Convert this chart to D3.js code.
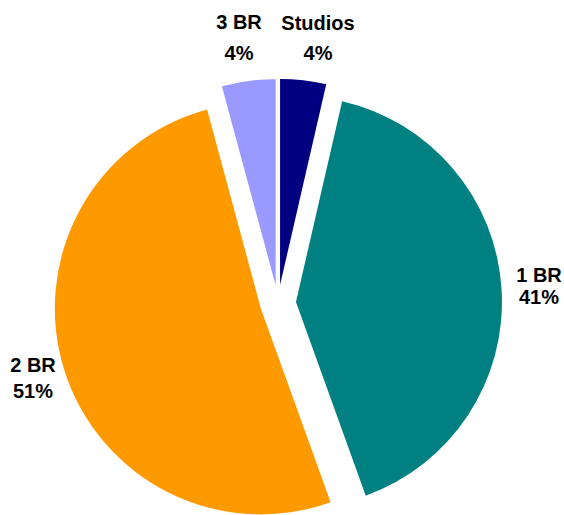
<!DOCTYPE html>
<html>
<head>
<meta charset="utf-8">
<script src="https://cdn.jsdelivr.net/npm/d3@7"></script>
<style>
  html, body { margin: 0; padding: 0; background: #fff; }
  svg { display: block; }
  text { font-family: "Liberation Sans", Arial, sans-serif; font-weight: bold; fill: #000; }
</style>
</head>
<body>
<svg id="chart" width="564" height="515"></svg>
<script>
// Unit mix (% of units), clockwise from 12 o'clock
const categories = ["Studios", "1 BR", "2 BR", "3 BR"];
const shares = [3.6, 40.9, 51.3, 4.2];
const colors = ["#000080", "#008080", "#FF9900", "#9999FF"];

const width = 564, height = 515;
const cx = 278, cy = 303;
const radius = 206;
const explode = 18;

// label placement relative to the pie centre: [dx, dy of first baseline, line gap]
const labelLayout = {
  "Studios": [40, -273, 30],
  "1 BR": [261, -21, 22],
  "2 BR": [-245, 69, 26],
  "3 BR": [-39, -274, 31]
};

const svg = d3.select("#chart");
const g = svg.append("g").attr("transform", `translate(${cx},${cy})`);

const pie = d3.pie().sort(null).value(d => d.value);
const arcs = pie(categories.map((c, i) => ({ name: c, value: shares[i], color: colors[i] })));

const arc = d3.arc().innerRadius(0).outerRadius(radius);

// exploded slices, each pushed out along its bisector
g.selectAll("path.slice")
  .data(arcs)
  .join("path")
  .attr("class", "slice")
  .attr("d", arc)
  .attr("fill", d => d.data.color)
  .attr("transform", d => {
    const mid = (d.startAngle + d.endAngle) / 2;
    return `translate(${Math.sin(mid) * explode},${-Math.cos(mid) * explode})`;
  });

// category name and rounded percentage
const labels = g.selectAll("text.lbl")
  .data(arcs)
  .join("text")
  .attr("class", "lbl")
  .attr("text-anchor", "middle")
  .style("font-size", "20px");

labels.each(function(d) {
  const [dx, dy, gap] = labelLayout[d.data.name];
  const t = d3.select(this);
  t.append("tspan").attr("x", dx).attr("y", dy).text(d.data.name);
  t.append("tspan").attr("x", dx).attr("y", dy + gap).text(Math.round(d.data.value) + "%");
});
</script>
</body>
</html>
